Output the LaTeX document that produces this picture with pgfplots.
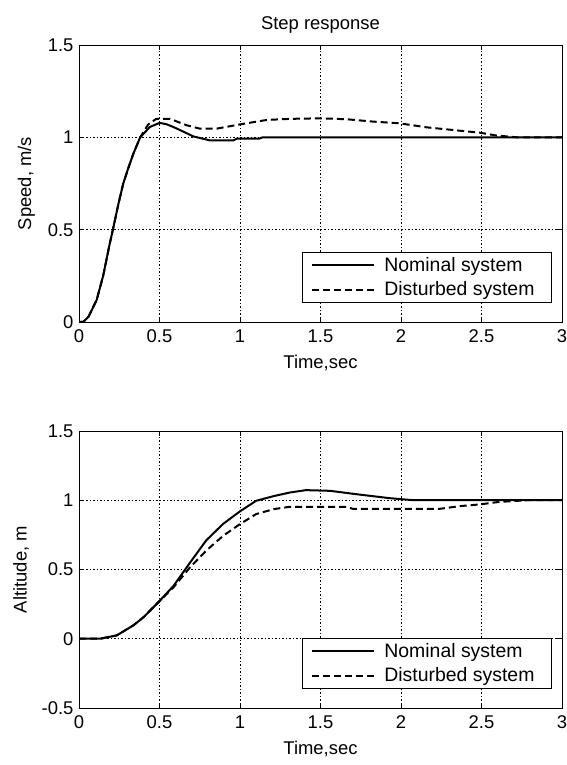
\documentclass[border=0pt]{standalone}
\usepackage{fontspec}
\setmainfont{Liberation Sans}
\usepackage{pgfplots}
\pgfplotsset{compat=1.18}

\newcommand{\fs}{\fontsize{18.5}{22}\selectfont}

\pgfplotsset{
  mat/.style={
    scale only axis, width=483bp, height=277bp,
    xmin=0, xmax=3, xtick={0,0.5,...,3},
    tick pos=both, tick align=inside, major tick length=5bp,
    every tick/.style={black, line width=0.6bp},
    axis line style={black, line width=0.8bp},
    grid=major,
    grid style={black, line width=0.5bp, dash pattern=on 1.5bp off 2bp},
    tick label style={font=\fs},
    xticklabel style={yshift=-4bp},
    yticklabel style={xshift=-2bp},
    label style={font=\fs},
    xlabel style={yshift=-6bp},
    ylabel style={yshift=6bp},
    title style={font=\fs, yshift=2bp},
    /pgf/number format/assume math mode=true,
    xlabel={Time,sec},
    legend cell align=left,
    legend style={at={(0.979,0.069)}, anchor=south east, draw=black,
      line width=0.8bp, font=\fontsize{19.5}{23}\selectfont,
      inner xsep=9bp, inner ysep=3bp, row sep=5bp},
    legend image code/.code={\draw[#1] (0bp,0bp) -- (62bp,0bp);},
  },
  nom/.style={black, line width=2bp},
  dis/.style={black, line width=2bp, dash pattern=on 7bp off 4bp},
}

\begin{document}
\begin{tikzpicture}
\useasboundingbox (0,0) rectangle (567bp,765bp);

% speed
\begin{axis}[mat, at={(79bp,443bp)}, anchor=south west,
  ymin=0, ymax=1.5, ytick={0,0.5,1,1.5},
  ylabel={Speed, m/s}, title={Step response}]
\addplot[nom] coordinates {
  (0,0)(0.027,0)(0.06,0.03)(0.11,0.12)(0.15,0.25)(0.19,0.42)(0.213,0.51)
  (0.245,0.64)(0.275,0.75)(0.305,0.83)(0.337,0.91)(0.38,1.0)(0.44,1.056)
  (0.5,1.078)(0.54,1.072)(0.586,1.056)(0.65,1.03)(0.71,1.005)(0.81,0.984)
  (0.96,0.984)(0.98,0.993)(1.12,0.993)(1.14,1.0)(3,1.0)};
\addplot[dis] coordinates {
  (0,0)(0.027,0)(0.06,0.03)(0.11,0.12)(0.15,0.25)(0.19,0.42)(0.213,0.51)
  (0.245,0.64)(0.275,0.75)(0.305,0.83)(0.337,0.91)(0.38,1.0)(0.43,1.07)
  (0.48,1.10)(0.565,1.10)(0.67,1.065)(0.75,1.047)(0.855,1.047)(1.0,1.07)
  (1.165,1.094)(1.31,1.10)(1.50,1.103)(1.66,1.098)(1.83,1.085)(1.99,1.076)
  (2.16,1.054)(2.32,1.04)(2.49,1.025)(2.59,1.01)(2.72,1.0)(3,1.0)};
\legend{\hspace*{7bp}Nominal system, \hspace*{7bp}Disturbed system\hspace*{6bp}}
\end{axis}

% altitude
\begin{axis}[mat, at={(79bp,57bp)}, anchor=south west,
  ymin=-0.5, ymax=1.5, ytick={-0.5,0,0.5,1,1.5},
  ylabel={Altitude, m}]
\addplot[nom] coordinates {
  (0,0)(0.13,0)(0.234,0.024)(0.337,0.096)(0.4,0.155)(0.49,0.26)(0.586,0.38)
  (0.69,0.55)(0.79,0.71)(0.896,0.83)(1.0,0.92)(1.10,0.996)(1.21,1.03)
  (1.31,1.056)(1.41,1.073)(1.56,1.068)(1.72,1.044)(1.93,1.015)(2.08,1.0)
  (3,1.0)};
\addplot[dis] coordinates {
  (0,0)(0.13,0)(0.234,0.024)(0.337,0.096)(0.4,0.155)(0.49,0.26)(0.586,0.37)
  (0.69,0.516)(0.79,0.636)(0.896,0.744)(1.0,0.828)(1.10,0.90)(1.21,0.936)
  (1.31,0.953)(1.66,0.953)(1.70,0.938)(2.24,0.938)(2.37,0.958)(2.49,0.97)
  (2.61,0.988)(2.78,1.0)(3,1.0)};
\legend{\hspace*{7bp}Nominal system, \hspace*{7bp}Disturbed system\hspace*{6bp}}
\end{axis}
\end{tikzpicture}
\end{document}
